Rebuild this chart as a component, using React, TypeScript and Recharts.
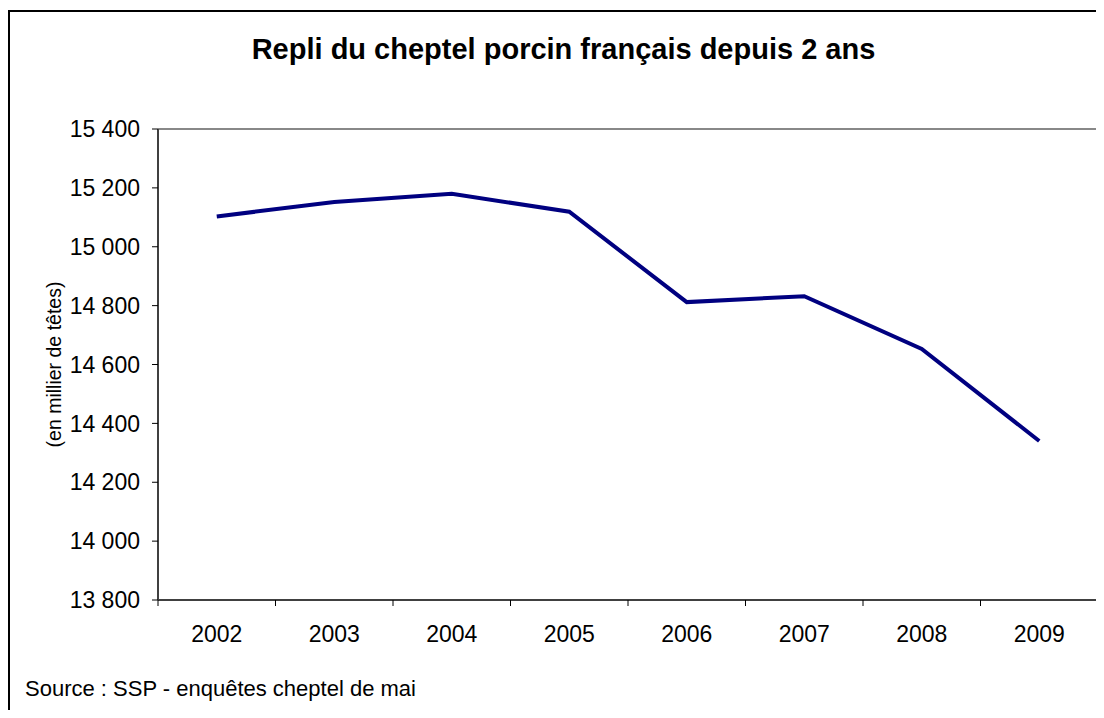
import React from "react";
import {
  LineChart,
  Line,
  XAxis,
  YAxis,
  CartesianGrid,
} from "recharts";

const years = ["2002", "2003", "2004", "2005", "2006", "2007", "2008", "2009"];
const herd = [15103, 15152, 15180, 15119, 14812, 14832, 14653, 14340];
const yTicks = [13800, 14000, 14200, 14400, 14600, 14800, 15000, 15200, 15400];

const data = years.map((year, i) => ({ year, herd: herd[i] }));

const FONT = '"Liberation Sans", Arial, sans-serif';
const W = 1096;
const H = 700;
const margin = { top: 121, right: 6, bottom: 68, left: 0 };
const Y_AXIS_W = 150;
const plotW = W - margin.left - margin.right - Y_AXIS_W;
const plotH = H - margin.top - margin.bottom - 40;
const half = plotW / years.length / 2;

const fmt = (v: number) =>
  `${Math.floor(v / 1000)} ${String(v % 1000).padStart(3, "0")}`;

const YearTick = (props: any) => {
  const { x, y, payload, index } = props;
  return (
    <g>
      <line x1={x - half} x2={x - half} y1={y} y2={y + 6} stroke="#000" />
      {index === years.length - 1 && (
        <line x1={x + half} x2={x + half} y1={y} y2={y + 6} stroke="#000" />
      )}
      <text
        x={x}
        y={y + 41.5}
        textAnchor="middle"
        fontSize={23}
        fontFamily={FONT}
        fill="#000"
      >
        {payload.value}
      </text>
    </g>
  );
};

const YLabel = (props: any) => {
  const { viewBox } = props;
  const cx = viewBox.x + 46;
  const cy = viewBox.y + viewBox.height / 2;
  return (
    <text
      x={cx}
      y={cy}
      transform={`rotate(-90 ${cx} ${cy})`}
      textAnchor="middle"
      dominantBaseline="central"
      fontSize={19.5}
      fontFamily={FONT}
      fill="#000"
    >
      (en millier de têtes)
    </text>
  );
};

export default function App() {
  return (
    <div
      style={{
        position: "relative",
        width: W,
        height: 702,
        overflow: "hidden",
        fontFamily: FONT,
      }}
    >
      <div
        style={{
          position: "absolute",
          left: 0,
          top: 2,
          width: W + 10,
          height: 720,
          boxSizing: "border-box",
          borderLeft: "2px solid #000",
          borderTop: "2px solid #000",
        }}
      />
      <div
        style={{
          position: "absolute",
          left: 7.5,
          top: 27,
          width: W,
          textAlign: "center",
          fontSize: 29,
          lineHeight: 1,
          fontWeight: "bold",
          color: "#000",
        }}
      >
        Repli du cheptel porcin français depuis 2 ans
      </div>
      <div style={{ position: "absolute", left: 0, top: 0 }}>
        <LineChart width={W} height={H} data={data} margin={margin}>
          <CartesianGrid
            stroke="#888"
            strokeWidth={2}
            vertical={false}
            horizontalCoordinatesGenerator={({ offset }: any) => [offset.top]}
          />
          <XAxis
            dataKey="year"
            padding={{ left: half, right: half }}
            axisLine={{ stroke: "#404040", strokeWidth: 2 }}
            tickLine={false}
            tickSize={0}
            tickMargin={0}
            height={40}
            interval={0}
            tick={<YearTick />}
          />
          <YAxis
            width={Y_AXIS_W}
            domain={[13800, 15400]}
            ticks={yTicks}
            interval={0}
            tickFormatter={fmt}
            axisLine={{ stroke: "#404040", strokeWidth: 2 }}
            tickLine={{ stroke: "#000" }}
            tickSize={6}
            tickMargin={12}
            tick={{ fontSize: 23, fontFamily: FONT, fill: "#000" }}
            label={<YLabel />}
          />
          <Line
            type="linear"
            dataKey="herd"
            stroke="#000080"
            strokeWidth={4}
            dot={false}
            activeDot={false}
            isAnimationActive={false}
          />
        </LineChart>
      </div>
      {/* right edge of the plot frame */}
      <div
        style={{
          position: "absolute",
          zIndex: 2,
          left: margin.left + Y_AXIS_W + plotW - 2,
          top: margin.top - 1,
          width: 2,
          height: plotH + 2,
          backgroundColor: "#888888",
        }}
      />
      <div
        style={{
          position: "absolute",
          left: 17,
          top: 670.4,
          fontSize: 22,
          lineHeight: 1,
          color: "#000",
          whiteSpace: "nowrap",
        }}
      >
        Source : SSP - enquêtes cheptel de mai
      </div>
    </div>
  );
}
